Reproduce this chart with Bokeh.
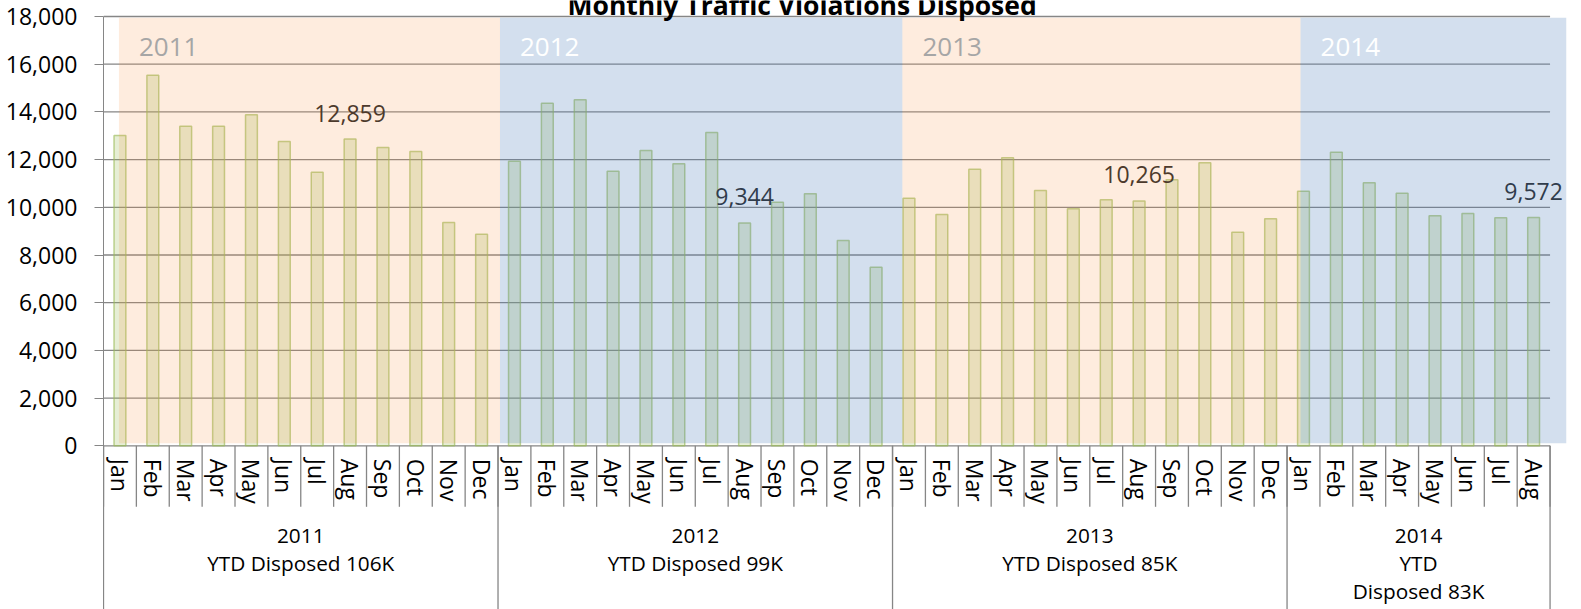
import math
from bokeh.plotting import figure
from bokeh.models import Range1d, FixedTicker, NumeralTickFormatter, ColumnDataSource, Label
from bokeh.core.properties import value
from bokeh.embed import file_html
from bokeh.resources import INLINE

# ---------------- data ----------------
title_text = "Monthly Traffic Violations Disposed"
years = ["2011", "2012", "2013", "2014"]
months = ["Jan", "Feb", "Mar", "Apr", "May", "Jun", "Jul", "Aug", "Sep", "Oct", "Nov", "Dec"]
v2011 = [13010, 15539, 13400, 13400, 13878, 12759, 11472, 12859, 12507, 12340, 9363, 8872]
v2012 = [11933, 14365, 14507, 11514, 12382, 11824, 13136, 9344, 10214, 10566, 8608, 7488]
v2013 = [10382, 9698, 11597, 12075, 10704, 9937, 10314, 10265, 11153, 11866, 8956, 9518]
v2014 = [10675, 12310, 11027, 10591, 9644, 9740, 9560, 9572]
group_labels = ["2011\nYTD Disposed 106K", "2012\nYTD Disposed 99K",
                "2013\nYTD Disposed 85K", "2014\nYTD\nDisposed 83K"]
labeled_month = "Aug"
y_ticks = list(range(0, 18001, 2000))

# ---------------- layout constants ----------------
W, H = 1581, 609
BORDER_L, BORDER_R = 103, 15
PLOT_TOP_PX = 16                     # px from canvas top to the 18,000 line
Y_TOP = 18000
ZERO_PX = 429.3                      # px from the 18,000 line to the 0 line
UNIT_PER_PX = Y_TOP / ZERO_PX
Y_MAX = Y_TOP + PLOT_TOP_PX * UNIT_PER_PX
Y_BOTTOM = -(H - PLOT_TOP_PX - ZERO_PX) * UNIT_PER_PX
X_END = 44.5
BAND_EDGES = [0.47, 12.06, 24.30, 36.41, 44.5]
BAND_COLORS = ["#F79646", "#4F81BD", "#F79646", "#4F81BD"]
BAND_ALPHAS = [0.18, 0.25, 0.18, 0.25]
YEAR_TEXT_COLORS = ["#a6a6a6", "#ffffff", "#a6a6a6", "#ffffff"]
GRID = "#868686"
FONT = "Open Sans"

series = [v2011, v2012, v2013, v2014]
xs, tops, mlabels = [], [], []
starts, ends = [], []
i = 0
for s in series:
    starts.append(i)
    for k, v in enumerate(s):
        xs.append(i + 0.5)
        tops.append(v)
        mlabels.append(months[k])
        i += 1
    ends.append(i)
n_months = i

p = figure(width=W, height=H, output_backend="svg", toolbar_location=None,
           x_range=Range1d(0, X_END), y_range=Range1d(Y_BOTTOM, Y_MAX),
           x_axis_location=None, min_border_left=BORDER_L, min_border_right=BORDER_R,
           min_border_top=0, min_border_bottom=0)
p.outline_line_color = None
p.xgrid.grid_line_color = None
p.ygrid.grid_line_color = None
p.background_fill_color = "white"
p.border_fill_color = "white"

ya = p.yaxis[0]
ya.ticker = FixedTicker(ticks=y_ticks)
ya.bounds = (Y_BOTTOM, Y_TOP)
ya.formatter = NumeralTickFormatter(format="0,0")
ya.major_label_text_font = FONT
ya.major_label_text_font_size = "23px"
ya.major_label_text_color = "#000000"
ya.major_tick_out = 9
ya.major_tick_in = 0
ya.minor_tick_line_color = None
ya.major_label_standoff = 17
ya.axis_line_color = GRID
ya.major_tick_line_color = GRID

# horizontal gridlines (end at the last month)
p.segment(x0=[0] * len(y_ticks), x1=[n_months] * len(y_ticks), y0=y_ticks, y1=y_ticks,
          line_color=GRID, line_width=1.3)

# bars
src = ColumnDataSource(dict(x=xs, top=tops, m=mlabels))
p.vbar(x="x", top="top", bottom=0, width=0.36, source=src,
       fill_color="#9BBB59", fill_alpha=0.25, line_color="#9BBB59", line_alpha=0.65, line_width=1.5)

# data labels on the August bars
lx, ly, lt = [], [], []
for s0, s in zip(starts, series):
    k = months.index(labeled_month)
    if k < len(s):
        lx.append(s0 + k + 0.5)
        ly.append(s[k])
        lt.append(f"{s[k]:,}")
p.text(x=lx, y=ly, text=lt, text_font=value(FONT), text_font_size="23px", text_color="#262626",
       text_align="center", text_baseline="alphabetic", y_offset=-26)

# year bands (semi-transparent, on top)
for b in range(4):
    p.quad(left=BAND_EDGES[b], right=BAND_EDGES[b + 1], bottom=110, top=17950,
           fill_color=BAND_COLORS[b], fill_alpha=BAND_ALPHAS[b], line_color=None)

# year captions inside the bands
p.text(x=BAND_EDGES[:4], y=[Y_TOP] * 4, text=years, text_color=YEAR_TEXT_COLORS,
       text_font=value(FONT), text_font_size="26px", text_align="left",
       text_baseline="alphabetic", x_offset=20, y_offset=30)

# category axis: month separators, month labels, group separators and labels
sep_len = -61 * UNIT_PER_PX
mx = list(range(n_months + 1))
p.segment(x0=mx, x1=mx, y0=[0] * len(mx), y1=[sep_len] * len(mx), line_color=GRID, line_width=1.3)
gx = starts + [n_months]
p.segment(x0=gx, x1=gx, y0=[0] * len(gx), y1=[Y_BOTTOM] * len(gx), line_color=GRID, line_width=1.3)
p.text(x="x", y=0, text="m", source=src, angle=-math.pi / 2, text_font=value(FONT),
       text_font_size="23px", text_color="#000000", text_align="left", text_baseline="middle",
       y_offset=13)
gcx = [(a + b) / 2 for a, b in zip(starts, ends)]
p.text(x=gcx, y=[0] * 4, text=group_labels, text_font=value(FONT), text_font_size="20.8px",
       text_color="#000000", text_align="center", text_baseline="top", text_line_height=1.0,
       y_offset=75)

# title (partly cut off at the top, as in the reference)
p.add_layout(Label(x=21.25, y=Y_TOP, text=title_text, text_font=FONT, text_font_size="26.5px",
                   text_font_style="bold", text_color="#000000", text_align="center",
                   text_baseline="alphabetic", y_offset=12))

open("out.html", "w").write(file_html(p, INLINE))
